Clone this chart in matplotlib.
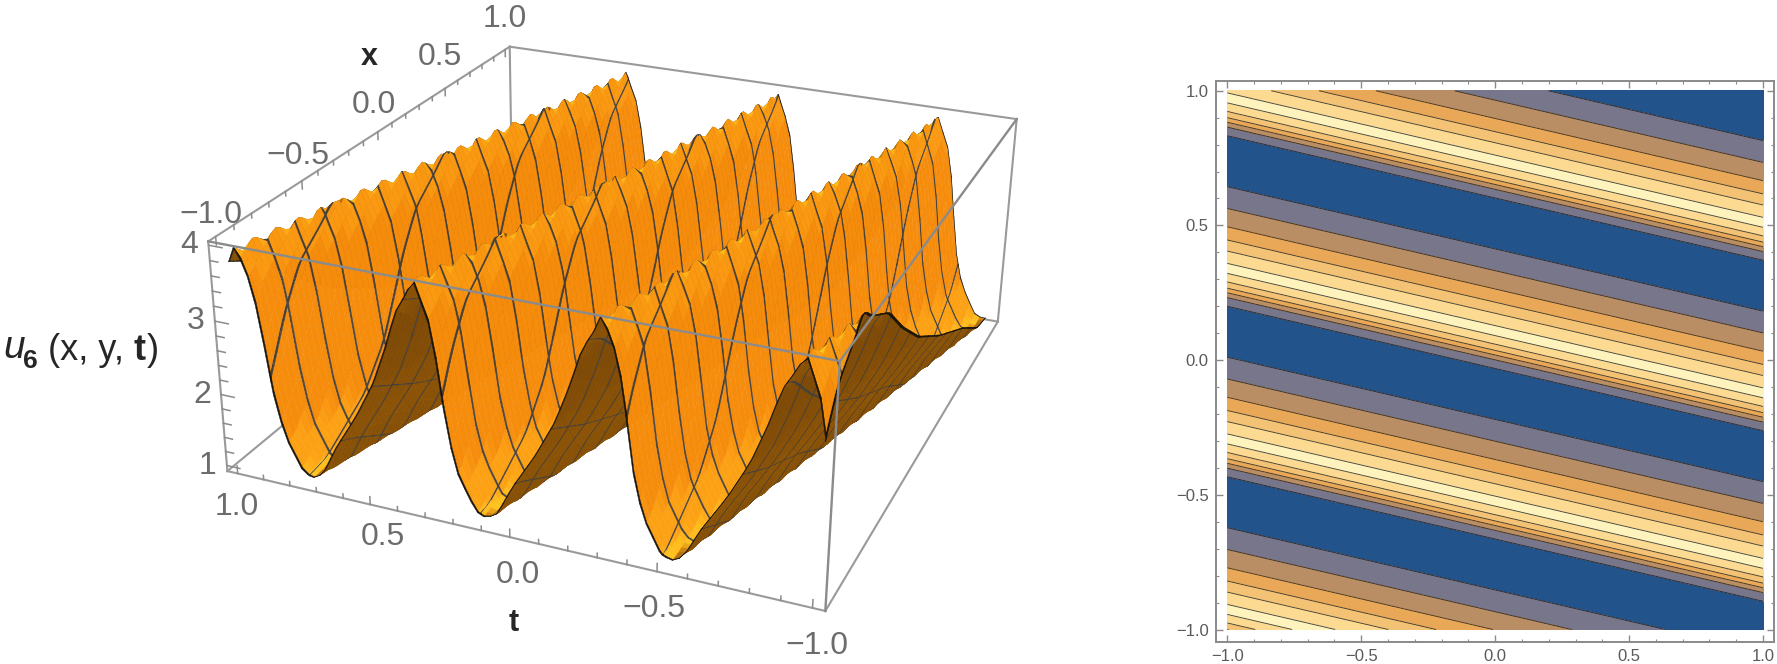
import numpy as np
import matplotlib
matplotlib.use('Agg')
import matplotlib.pyplot as plt
from matplotlib.colors import to_rgb
from mpl_toolkits.mplot3d import proj3d

plt.rcParams['font.family'] = ['Liberation Sans', 'DejaVu Sans']
W, H = 1777, 664

# wave profile: t at x=-1 against u
profile_t = [0.105, 0.140, 0.200, 0.232, 0.250, 0.267, 0.290, 0.322, 0.340, 0.359, 0.405, 0.446, 0.495, 0.563, 0.644, 0.700, 0.738]
profile_u = [1.0, 1.06, 1.5, 2.0, 2.5, 3.0, 3.5, 3.8, 4.0, 3.8, 3.5, 3.0, 2.5, 2.0, 1.5, 1.08, 1.0]
period = 0.633
ridge_slope = 0.231

levels = [0.9, 1.5, 2.0, 2.5, 3.0, 3.5, 3.8, 4.1]
band_colors = ['#22538a', '#78768a', '#b98e64', '#e9a857', '#f3c274', '#fcda92', '#fef3bc']
box_lim = 1.04
z_lim = (0.92, 4.05)

# surface colour against du/dt, dark on the slopes turned away
slope_stops = [-12, -3, -0.8, 0.8, 5, 14]
slope_colors = ['#7d4a08', '#8f5608', '#d98a10', '#ffc41f', '#ffa817', '#f68c0c']
mesh_color = '#45403a'
edge_color = '#17120c'
mesh_count = 15

x_ticks = [-1.0, -0.5, 0.0, 0.5, 1.0]
t_ticks = [1.0, 0.5, 0.0, -0.5, -1.0]
z_ticks = [1, 2, 3, 4]
x_label_off = [(-5, 22), (-4, 25), (-4, 27), (-5, 31), (0, 31)]
t_label_off = [(-1, -34), (13, -33), (8, -38), (-3, -37), (4, -38)]


def wave(x, t):
    p = (t + ridge_slope * (x + 1) - profile_t[0]) % period + profile_t[0]
    return np.interp(p, profile_t, profile_u)


def wave_smooth(x, t):
    # same wave with the corners of the table rounded off, for the 3D surface
    fine = np.linspace(profile_t[0], profile_t[-1], 634)[:-1]
    u = np.interp(fine, profile_t, profile_u)
    kernel = np.ones(11) / 11
    u = np.convolve(np.r_[u[-5:], u, u[:5]], kernel, mode='valid')
    p = (t + ridge_slope * (x + 1) - profile_t[0]) % period + profile_t[0]
    return np.interp(p, fine, u)


def band_grid(n, half, edge):
    # uniform grid plus narrow cells round each mesh line, the cells get painted as the line
    marks = -1 + 2 * np.arange(1, mesh_count + 1) / (mesh_count + 1)
    g = np.r_[np.linspace(-1, 1, n), marks - half, marks + half, -1 + edge, 1 - edge]
    g = np.unique(np.round(g, 5))
    mid = (g[:-1] + g[1:]) / 2
    is_mesh = np.abs(mid[:, None] - marks).min(axis=1) < half
    is_edge = np.abs(mid) > 1 - edge
    return g, is_mesh, is_edge


fig = plt.figure(figsize=(W / 100, H / 100), dpi=100)

# ---------- left, 3D surface ----------
ax = fig.add_axes([199.91 / W, -65.03 / H, 863.54 / W, 863.54 / H], projection='3d', computed_zorder=False)
ax.set_xlim(-box_lim, box_lim, view_margin=0)
ax.set_ylim(-box_lim, box_lim, view_margin=0)
ax.set_zlim(*z_lim, view_margin=0)
ax.view_init(elev=24.5848, azim=-157.8743, roll=-0.7518)
ax.set_proj_type('persp', focal_length=0.438)
ax.set_box_aspect((1, 0.9559, 0.3818), zoom=1)
ax.set_axis_off()

xg, x_mesh, x_edge = band_grid(81, 0.004, 0.006)
tg, t_mesh, t_edge = band_grid(91, 0.0014, 0.003)
X, T = np.meshgrid(xg, tg)
U = wave_smooth(X, T)

slope = (U[1:, :-1] - U[:-1, :-1]) / (T[1:, :-1] - T[:-1, :-1])
rgb = np.array([to_rgb(c) for c in slope_colors])
face = np.zeros(U.shape + (4,))
face[..., 3] = 1
for i in range(3):
    face[:-1, :-1, i] = np.interp(slope, slope_stops, rgb[:, i])
face[:-1, x_mesh.nonzero()[0], :3] = to_rgb(mesh_color)
face[t_mesh.nonzero()[0], :-1, :3] = to_rgb(mesh_color)
face[:-1, x_edge.nonzero()[0], :3] = to_rgb(edge_color)
face[t_edge.nonzero()[0], :-1, :3] = to_rgb(edge_color)
ax.plot_surface(X, T, U, facecolors=face, rcount=U.shape[0], ccount=U.shape[1], shade=False,
                linewidth=0.3, antialiased=True, zorder=2)

b = box_lim
zb, zt = z_lim
box_back = [((-b, b, zb), (-b, b, zt)), ((-b, b, zt), (b, b, zt)), ((b, b, zt), (b, -b, zt)),
            ((b, -b, zt), (b, -b, zb)), ((-b, b, zb), (-b, -b, zb)), ((-b, -b, zb), (b, -b, zb)),
            ((-b, b, zb), (b, b, zb)), ((b, b, zb), (b, b, zt)), ((b, b, zb), (b, -b, zb))]
box_front = [((-b, b, zt), (-b, -b, zt)), ((-b, -b, zt), (b, -b, zt)), ((-b, -b, zt), (-b, -b, zb))]
for p, q in box_back:
    ax.plot(*zip(p, q), color='#9a9a9a', lw=1.5, zorder=1)
for p, q in box_front:
    ax.plot(*zip(p, q), color='#8b8b8b', lw=1.7, zorder=5)

# tick marks on the three labelled edges
for v in np.arange(-1, 1.01, 0.1):
    major = abs(v * 2 - round(v * 2)) < 1e-6
    lz = 0.11 if major else 0.06
    ax.plot([-b, -b], [v, v], [zb, zb + lz], color='#8b8b8b', lw=1.1, zorder=1)
    ax.plot([v, v], [b, b], [zt, zt - lz], color='#8b8b8b', lw=1.1, zorder=1)
for v in np.arange(1, 4.01, 0.2):
    major = abs(v - round(v)) < 1e-6
    ax.plot([-b, -b], [b, b - (0.05 if major else 0.03)], [v, v], color='#8b8b8b', lw=1.1, zorder=1)


def put(label, p, off, **kw):
    a, c, _ = proj3d.proj_transform(*p, ax.get_proj())
    style = dict(fontsize=23, color='#6c6c6c', ha='center', va='center', annotation_clip=False)
    style.update(kw)
    ax.annotate(label, xy=(a, c), xycoords='data', xytext=off, textcoords='offset pixels', **style)


for v, off in zip(x_ticks, x_label_off):
    put(f'{v:.1f}'.replace('-', '\u2212'), (v, b, zt), off)
for v, off in zip(t_ticks, t_label_off):
    put(f'{v:.1f}'.replace('-', '\u2212'), (-b, v, zb), off)
for v in z_ticks:
    put(str(v), (-b, b, v), (-19, 0))
put('x', (0.42, b, zt), (-66, 38), fontweight='bold', color='#262626', fontsize=22)
put('t', (-b, -0.1, zb), (-25, -79), fontweight='bold', color='#262626', fontsize=22)

# axis label of the vertical axis, built from pieces like the original
label_color = '#262626'
fig.text(3 / W, 1 - 358 / H, 'u', fontsize=28, style='italic', color=label_color, va='baseline')
fig.text(23 / W, 1 - 368 / H, '6', fontsize=19, fontweight='bold', color=label_color, va='baseline')
fig.text(48 / W, 1 - 360 / H, '(x, y,', fontsize=26, color=label_color, va='baseline')
fig.text(134 / W, 1 - 360 / H, 't', fontsize=26, fontweight='bold', color=label_color, va='baseline')
fig.text(147 / W, 1 - 360 / H, ')', fontsize=26, color=label_color, va='baseline')

# ---------- right, contour plot ----------
left, right, top, bottom = 1215.6, 1774.0, 80.5, 642.0
ax2 = fig.add_axes([left / W, 1 - bottom / H, (right - left) / W, (bottom - top) / H])
xc = np.linspace(-1, 1, 400)
yc = np.linspace(-1, 1, 1600)
XC, YC = np.meshgrid(xc, yc)
ZC = wave(XC, YC)
ax2.contourf(XC, YC, ZC, levels=levels, colors=band_colors)
ax2.contour(XC, YC, ZC, levels=levels[1:-1], colors='#1a1a1a', linewidths=0.65, alpha=0.8)
ax2.set_xlim(-1.0437, 1.041)
ax2.set_ylim(-1.0464, 1.038)
for spine in ax2.spines.values():
    spine.set_color('#8a8a8a')
    spine.set_linewidth(1.4)
ax2.set_xticks(x_ticks)
ax2.set_yticks(x_ticks)
ax2.set_xticks(np.arange(-1, 1.01, 0.1), minor=True)
ax2.set_yticks(np.arange(-1, 1.01, 0.1), minor=True)
ax2.tick_params(which='major', direction='in', length=5, width=1, color='#8a8a8a', top=True, right=True,
                labelsize=12, labelcolor='#5a5a5a', pad=5)
ax2.tick_params(which='minor', direction='in', length=2.5, width=0.8, color='#8a8a8a', top=True, right=True)

fig.savefig('out.png', dpi=100)
